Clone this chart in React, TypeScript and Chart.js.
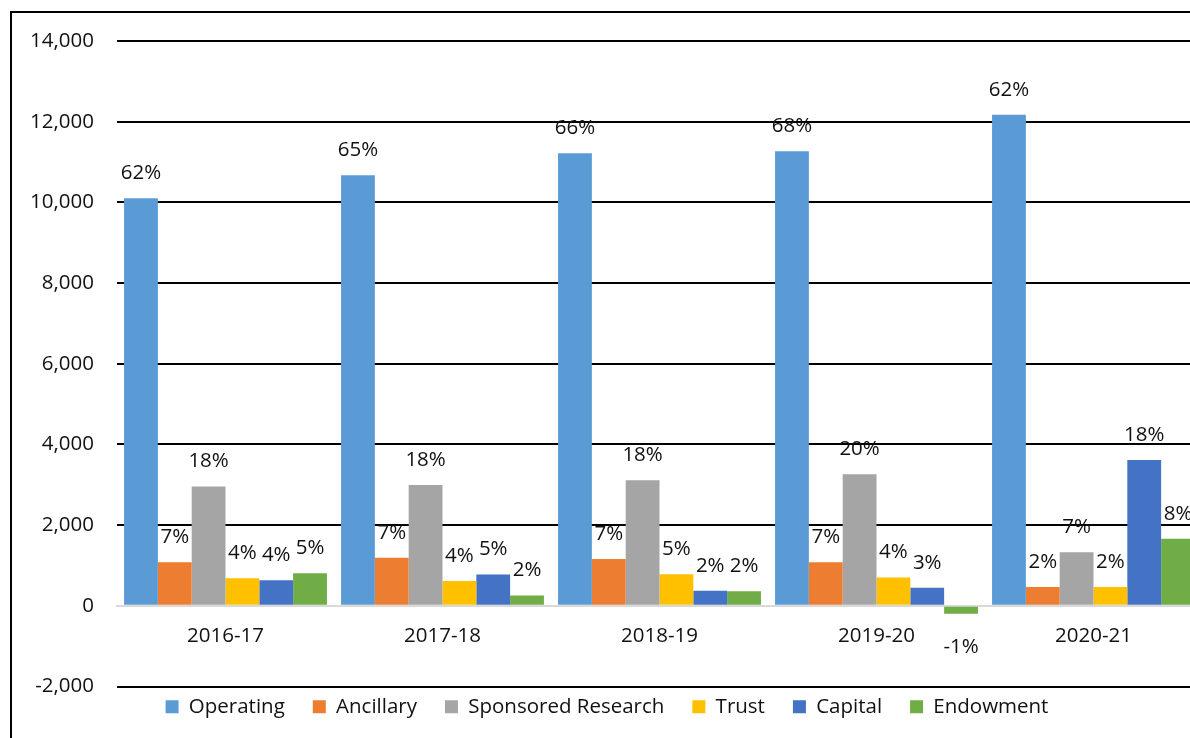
import React, { useEffect, useRef } from 'react';
import { Chart, registerables } from 'chart.js';

Chart.register(...registerables);

const categories = ['2016-17', '2017-18', '2018-19', '2019-20', '2020-21'];
const seriesNames = ['Operating', 'Ancillary', 'Sponsored Research', 'Trust', 'Capital', 'Endowment'];
const seriesColors = ['#5B9BD5', '#ED7D31', '#A5A5A5', '#FFC000', '#4472C4', '#70AD47'];

const operating = [10100, 10670, 11220, 11270, 12170];
const ancillary = [1080, 1190, 1160, 1080, 465];
const sponsoredResearch = [2960, 2995, 3110, 3260, 1330];
const trust = [685, 615, 785, 700, 465];
const capital = [635, 775, 375, 445, 3615];
const endowment = [805, 255, 360, -195, 1660];

const operatingPct = ['62%', '65%', '66%', '68%', '62%'];
const ancillaryPct = ['7%', '7%', '7%', '7%', '2%'];
const sponsoredPct = ['18%', '18%', '18%', '20%', '7%'];
const trustPct = ['4%', '4%', '5%', '4%', '2%'];
const capitalPct = ['4%', '5%', '2%', '3%', '18%'];
const endowmentPct = ['5%', '2%', '2%', '-1%', '8%'];

const yMin = -2000;
const yMax = 14000;
const yStep = 2000;

const FONT = '"Open Sans", "DejaVu Sans", sans-serif';
const FONT_SIZE = 20.5;

const seriesValues = [operating, ancillary, sponsoredResearch, trust, capital, endowment];
const seriesPct = [operatingPct, ancillaryPct, sponsoredPct, trustPct, capitalPct, endowmentPct];

const pctLabelPlugin = {
  id: 'pctLabels',
  afterDatasetsDraw(chart: any) {
    const ctx = chart.ctx;
    ctx.save();
    ctx.font = `${FONT_SIZE}px ${FONT}`;
    ctx.fillStyle = '#111';
    ctx.textAlign = 'center';
    ctx.textBaseline = 'middle';
    chart.data.datasets.forEach((ds: any, di: number) => {
      const meta = chart.getDatasetMeta(di);
      meta.data.forEach((bar: any, i: number) => {
        const v = ds.data[i];
        const y = v >= 0 ? bar.y - 25 : bar.y + 33;
        ctx.fillText(seriesPct[di][i], bar.x, y);
      });
    });
    ctx.restore();
  },
};

export default function App() {
  const canvasRef = useRef<HTMLCanvasElement | null>(null);

  useEffect(() => {
    if (!canvasRef.current) return;
    const chart = new Chart(canvasRef.current, {
      type: 'bar',
      data: {
        labels: categories,
        datasets: seriesNames.map((name, i) => ({
          label: name,
          data: seriesValues[i],
          backgroundColor: seriesColors[i],
          borderWidth: 0,
          barPercentage: 1,
          categoryPercentage: 0.935,
        })),
      },
      options: {
        animation: false,
        responsive: false,
        maintainAspectRatio: false,
        layout: { padding: { left: 0, right: 10, top: 28, bottom: 10 } },
        plugins: {
          tooltip: { enabled: false },
          legend: {
            position: 'bottom',
            title: {
              display: true,
              text: '',
              padding: { top: -18, bottom: 0 },
              font: { size: 0 },
            },
            labels: {
              boxWidth: 13,
              boxHeight: 13,
              padding: 28,
              color: '#111',
              font: { family: FONT, size: FONT_SIZE },
            },
          },
        },
        scales: {
          x: {
            position: { y: 0 } as any,
            grid: { color: 'rgba(0,0,0,0)', drawTicks: false },
            border: { display: true, color: '#D9D9D9', width: 2 },
            ticks: { padding: 18, color: '#111', font: { family: FONT, size: FONT_SIZE } },
          },
          y: {
            min: yMin,
            max: yMax,
            afterFit: (scale: any) => {
              scale.width = 105;
              scale.paddingTop = 0;
              scale.paddingBottom = 0;
            },
            grid: {
              color: (c: any) => (c.tick && c.tick.value === 0 ? 'rgba(0,0,0,0)' : '#000'),
              lineWidth: 2,
              drawTicks: false,
            },
            border: { display: false },
            ticks: {
              stepSize: yStep,
              padding: 23,
              color: '#111',
              font: { family: FONT, size: FONT_SIZE },
              callback: (v: any) => Number(v).toLocaleString('en-US'),
            },
          },
        },
      },
      plugins: [pctLabelPlugin],
    });
    return () => chart.destroy();
  }, []);

  return (
    <div
      style={{
        position: 'fixed',
        left: 0,
        top: 0,
        width: 1190,
        height: 738,
        overflow: 'hidden',
        background: '#fff',
      }}
    >
      <div
        style={{
          position: 'absolute',
          left: 10,
          top: 11,
          width: 1200,
          height: 740,
          border: '2px solid #000',
          background: '#fff',
        }}
      >
        <canvas
          ref={canvasRef}
          width={1200}
          height={724}
          style={{ display: 'block', width: 1200, height: 724 }}
        />
      </div>
    </div>
  );
}
